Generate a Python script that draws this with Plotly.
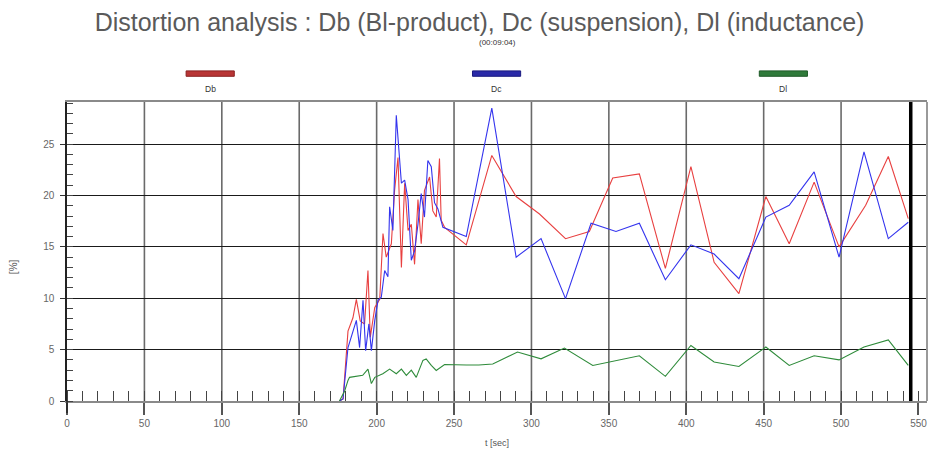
import plotly.graph_objects as go

# ---------------- data ----------------
db_t = [176, 178.3, 181.5, 184.7, 186.9, 189.4, 192.2, 194.4, 195.9, 198.8, 202, 204.1, 206.2, 209.5,
        211.6, 213.8, 216, 218.1, 220.3, 222.4, 224.5, 226.7, 228.8, 230.9, 234.2, 236.3, 238.5, 240.6,
        241.7, 243.9, 257.9, 274.4, 290.1, 305.2, 322, 337.4, 352.5, 369.7, 386.5, 403, 418, 434,
        451.4, 466.5, 482.6, 498.7, 515.9, 530.5, 543.4]
db_v = [0, 0.2, 6.8, 8.1, 9.9, 7.8, 7.5, 12.7, 6.2, 9.1, 9.9, 16.3, 14.0, 15.3,
        20.5, 23.7, 13.0, 21.2, 16.6, 17.2, 13.3, 19.6, 15.3, 20.5, 21.8, 18.5, 17.9, 23.6,
        17.6, 16.9, 15.2, 23.9, 19.9, 18.2, 15.8, 16.5, 21.7, 22.1, 12.9, 22.8, 13.5, 10.45,
        19.9, 15.3, 21.3, 15.0, 19.05, 23.8, 17.75]

dc_t = [176, 178.3, 181.5, 183.6, 186.9, 189, 191.2, 192.9, 195, 196.6, 198.8, 200.9, 203, 205.2,
        207.3, 208.4, 210.5, 212.7, 213.8, 216, 218.1, 220.3, 222.4, 224.5, 226.7, 228.8, 230.9,
        233.1, 235.3, 237.4, 239.6, 242.8, 257.9, 274.4, 290.1, 306.2, 322, 338.5, 354.6, 369.7,
        386.5, 403, 418, 434, 451.4, 466.5, 482.6, 498.7, 514.8, 530.5, 543.4]
dc_v = [0, 0.2, 5.2, 6.2, 7.85, 5.2, 9.8, 4.9, 7.5, 4.9, 7.85, 9.8, 10.1, 12.7,
        12.1, 18.9, 16.6, 27.8, 25.4, 21.2, 21.5, 19.6, 13.7, 14.6, 17.2, 20.2, 17.9,
        23.4, 22.8, 19.3, 18.7, 16.9, 16.0, 28.5, 14.0, 15.8, 9.96, 17.3, 16.5, 17.3,
        11.8, 15.2, 14.3, 11.9, 17.9, 19.05, 22.3, 14.0, 24.25, 15.8, 17.4]

dl_t = [176, 179.4, 181.5, 182.5, 191, 194.4, 196.6, 198.8, 204, 208.4, 212.7, 216, 219.2, 222.4,
        225.6, 229.9, 232, 235.3, 238.5, 243.9, 258, 266, 275, 291, 306.2, 321.3, 339.6, 354.6,
        369.7, 386.5, 403, 418, 434, 451.4, 466.5, 482.6, 498.7, 514.8, 530.5, 543.4]
dl_v = [0, 1.0, 2.0, 2.3, 2.5, 3.1, 1.7, 2.3, 2.65, 3.1, 2.65, 3.1, 2.5, 3.0,
        2.3, 3.95, 4.1, 3.46, 2.97, 3.55, 3.5, 3.5, 3.6, 4.76, 4.1, 5.15, 3.46, 3.95,
        4.4, 2.4, 5.4, 3.8, 3.36, 5.25, 3.46, 4.4, 4.0, 5.25, 5.95, 3.46]

series_names = ["Db", "Dc", "Dl"]
x_tickvals = [0, 50, 100, 150, 200, 250, 300, 350, 400, 450, 500, 550]
y_tickvals = [0, 5, 10, 15, 20, 25]
grid_x = [50, 100, 150, 200, 250, 300, 350, 400, 450, 500]
cursor_t = 545

title_text = "Distortion analysis : Db (Bl-product), Dc (suspension), Dl (inductance)"
subtitle_text = "(00:09:04)"

# ---------------- styles ----------------
line_colors = ["#e84040", "#3434ee", "#2e8b3a"]
legend_colors = ["#b83535", "#2a2aa8", "#2f7a3a"]
legend_edge = ["#8a2020", "#1a1a80", "#1f5a28"]
legend_x = [0.1665, 0.4995, 0.833]  # paper centers of legend bars

fig = go.Figure()
for t, v, name, col in zip([db_t, dc_t, dl_t], [db_v, dc_v, dl_v], series_names, line_colors):
    fig.add_trace(go.Scatter(x=t, y=v, mode="lines", name=name,
                             line=dict(color=col, width=1.1), showlegend=False))

shapes = []
# vertical grid lines
for gx in grid_x:
    shapes.append(dict(type="line", xref="x", yref="paper", x0=gx, x1=gx, y0=0, y1=1,
                       line=dict(color="#6a6a6a", width=1.6), layer="below"))
# cursor line
shapes.append(dict(type="line", xref="x", yref="paper", x0=cursor_t, x1=cursor_t, y0=0, y1=1,
                   line=dict(color="#000000", width=3.5), layer="above"))
# right border
shapes.append(dict(type="line", xref="paper", yref="paper", x0=1, x1=1, y0=0, y1=1,
                   line=dict(color="#9a9a9a", width=2)))
# y axis extension below 0
shapes.append(dict(type="line", xref="paper", yref="paper", x0=0, x1=0, y0=0, y1=-0.04,
                   line=dict(color="#222", width=1.5)))

annotations = []
# legend bars + labels
for lx, name, col, edge in zip(legend_x, series_names, legend_colors, legend_edge):
    annotations.append(dict(text=name, xref="paper", yref="paper", x=lx, y=1.0435,
                            showarrow=False, font=dict(size=8.5, color="#333"),
                            xanchor="center", yanchor="middle"))
    shapes.append(dict(type="rect", xref="paper", yref="paper",
                       x0=lx - 0.028, x1=lx + 0.028, y0=1.086, y1=1.104,
                       fillcolor=col, line=dict(color=edge, width=1)))

annotations.append(dict(text=subtitle_text, xref="paper", yref="paper", x=0.5, y=1.2,
                        showarrow=False, font=dict(size=8, color="#333"),
                        xanchor="center", yanchor="middle"))
annotations.append(dict(text="t [sec]", xref="paper", yref="paper", x=0.5, y=-0.142,
                        showarrow=False, font=dict(size=9, color="#555"),
                        xanchor="center", yanchor="middle"))
annotations.append(dict(text="[%]", xref="paper", yref="paper", x=-0.062, y=0.45,
                        showarrow=False, textangle=-90, font=dict(size=10, color="#555"),
                        xanchor="center", yanchor="middle"))

fig.update_layout(
    width=932, height=453,
    margin=dict(l=67, r=5, t=102, b=52),
    paper_bgcolor="white", plot_bgcolor="white",
    font=dict(family="Liberation Sans, Arial, sans-serif", color="#555"),
    title=dict(text=title_text, x=0.5145, xanchor="center", y=0.95, yanchor="middle",
               font=dict(size=25, color="#5a5a5a")),
    shapes=shapes, annotations=annotations,
    xaxis=dict(range=[0, 555.5], tickvals=x_tickvals, showgrid=False,
               ticks="outside", ticklen=12, tickwidth=1.5, tickcolor="#555",
               showline=True, linecolor="#8a8a8a", linewidth=2, mirror=True,
               tickfont=dict(size=10, color="#666"), zeroline=False,
               minor=dict(dtick=10, tick0=0, ticks="inside", ticklen=10, tickcolor="#444", tickwidth=1)),
    yaxis=dict(range=[0, 29.1], tickvals=y_tickvals, showgrid=True, gridcolor="#1a1a1a", gridwidth=1,
               ticks="outside", ticklen=5, tickwidth=1, tickcolor="#333",
               showline=True, linecolor="#222", linewidth=1.5, zeroline=False,
               tickfont=dict(size=10, color="#666"), ticklabelstandoff=4,
               minor=dict(dtick=1, tick0=0, ticks="inside", ticklen=6, tickcolor="#444", tickwidth=1)),
)

fig.write_html("out.html")
